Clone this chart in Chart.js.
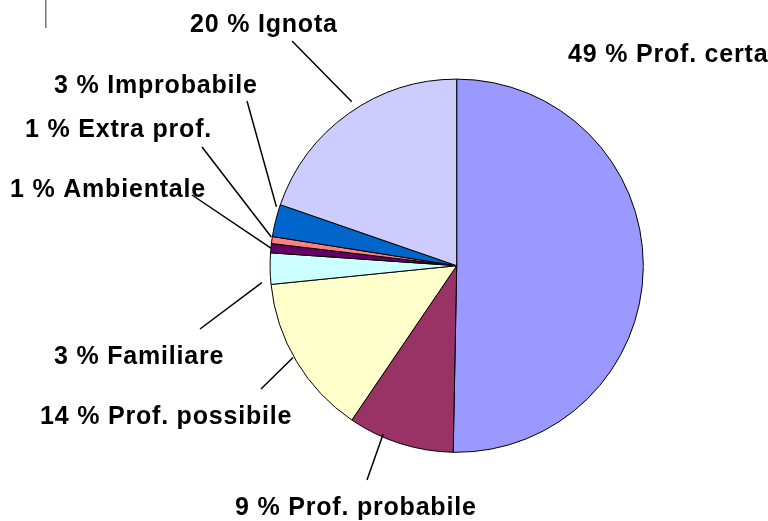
<!DOCTYPE html>
<html>
<head>
<meta charset="utf-8">
<script src="https://cdn.jsdelivr.net/npm/chart.js@4"></script>
<style>
  html, body { margin: 0; padding: 0; background: #fff; }
  #wrap { width: 768px; height: 521px; position: relative; }
</style>
</head>
<body>
<div id="wrap"><canvas id="chart" width="768" height="521"></canvas></div>
<script>
// slices in drawing order, clockwise from 12 o'clock
const categories = ["Prof. certa", "Prof. probabile", "Prof. possibile", "Familiare",
  "Ambientale", "Extra prof.", "Improbabile", "Ignota"];
const shares = [50.3, 9.2, 13.9, 2.7, 0.8, 0.6, 2.8, 19.7];
const percentLabels = ["49 %", "9 %", "14 %", "3 %", "1 %", "1 %", "3 %", "20 %"];
const sliceColors = ["#9999FF", "#993366", "#FFFFCC", "#CCFFFF", "#660066", "#FF8080", "#0066CC", "#CCCCFF"];

// label placement: text left x / baseline y, leader start point, where on the slice the leader ends
const labelText = [[568, 62], [235, 515], [40, 424], [54, 364], [10, 197], [25, 137], [54, 93], [190, 32]];
const leaderFrom = [null, [367, 480], [261, 389], [200, 329], [192, 195], [202, 147], [247, 101], [292, 41]];
const leaderFrac = [0.5, 0.68, 0.53, 0.08, 0.5, 0.9, 0.9, 0.54];
const leaderGap = [0, -3, 1, 9, 0, 1, 3, 8];

const ctx = document.getElementById("chart").getContext("2d");

const labelPlugin = {
  id: "pieLabels",
  afterDatasetsDraw(chart) {
    const c = chart.ctx;
    const arcs = chart.getDatasetMeta(0).data;
    c.save();
    c.strokeStyle = "#000";
    c.lineWidth = 1.5;
    arcs.forEach((arc, i) => {
      if (!leaderFrom[i]) return;
      const a = arc.startAngle + (arc.endAngle - arc.startAngle) * leaderFrac[i];
      const r = arc.outerRadius + leaderGap[i];
      c.beginPath();
      c.moveTo(leaderFrom[i][0], leaderFrom[i][1]);
      c.lineTo(arc.x + r * Math.cos(a), arc.y + r * Math.sin(a));
      c.stroke();
    });
    c.fillStyle = "#000";
    c.font = "bold 25px 'Liberation Sans', Arial, sans-serif";
    c.letterSpacing = "0.8px";
    c.textAlign = "left";
    c.textBaseline = "alphabetic";
    categories.forEach((name, i) => {
      c.fillText(percentLabels[i] + " " + name, labelText[i][0], labelText[i][1]);
    });
    // small grey mark at the top left of the original
    c.strokeStyle = "#777";
    c.lineWidth = 1.5;
    c.beginPath();
    c.moveTo(45.8, 0);
    c.lineTo(45.8, 28);
    c.stroke();
    c.restore();
  }
};

new Chart(ctx, {
  type: "pie",
  data: {
    labels: categories,
    datasets: [{
      data: shares,
      backgroundColor: sliceColors,
      borderColor: "#000",
      borderWidth: 1,
      borderAlign: "center"
    }]
  },
  options: {
    responsive: false,
    animation: false,
    radius: 186.6,
    layout: { padding: { left: 270, right: 124.6, top: 79.1, bottom: 68.7 } },
    plugins: {
      legend: { display: false },
      tooltip: { enabled: false }
    }
  },
  plugins: [labelPlugin]
});
</script>
</body>
</html>
